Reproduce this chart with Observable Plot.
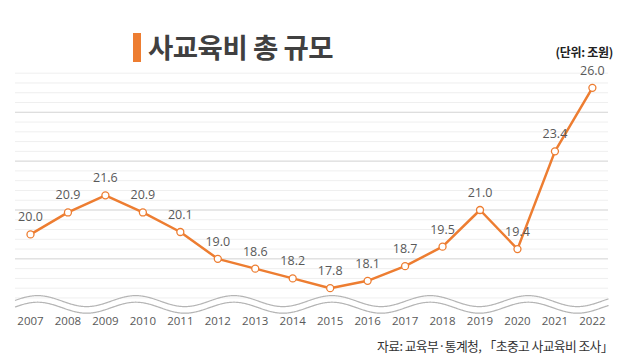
<!DOCTYPE html>
<html>
<head>
<meta charset="utf-8">
<script src="https://cdn.jsdelivr.net/npm/d3@7"></script>
<script src="https://cdn.jsdelivr.net/npm/@observablehq/plot@0.6"></script>
<style>
  html, body { margin: 0; padding: 0; background: #fff; }
  #wrap { position: relative; width: 640px; height: 359px; overflow: hidden;
          font-family: "Open Sans", "Noto Sans CJK KR", sans-serif; }
  #bar { position: absolute; left: 133px; top: 33px; width: 8px; height: 29px; background: #ED7D31; }
  #title { position: absolute; left: 148px; top: 26px; font-size: 27.5px; font-weight: 700; color: #404040;
           font-family: "Noto Sans CJK KR", sans-serif; letter-spacing: -0.5px; }
  #unit { position: absolute; right: 27px; top: 43px; font-size: 12px; font-weight: 700; color: #222;
          font-family: "Noto Sans CJK KR", sans-serif; letter-spacing: -0.3px; }
  #chart { position: absolute; left: 0; top: 60px; }
  #caption { position: absolute; right: 27px; top: 336px; font-size: 12.8px; color: #333;
             font-family: "Noto Sans CJK KR", sans-serif; letter-spacing: -0.6px; }
</style>
</head>
<body>
<div id="wrap">
  <div id="bar"></div>
  <div id="title">사교육비 총 규모</div>
  <div id="unit">(단위: 조원)</div>
  <div id="chart"></div>
  <div id="caption">자료: 교육부·통계청, 「초중고 사교육비 조사」</div>
</div>
<script>
const years = [2007, 2008, 2009, 2010, 2011, 2012, 2013, 2014, 2015, 2016, 2017, 2018, 2019, 2020, 2021, 2022];
const values = [20.0, 20.9, 21.6, 20.9, 20.1, 19.0, 18.6, 18.2, 17.8, 18.1, 18.7, 19.5, 21.0, 19.4, 23.4, 26.0];
const labels = ["20.0", "20.9", "21.6", "20.9", "20.1", "19.0", "18.6", "18.2", "17.8", "18.1", "18.7", "19.5", "21.0", "19.4", "23.4", "26.0"];

const data = years.map((y, i) => ({year: y, value: values[i], label: labels[i]}));

// gridline levels
const minorGrid = d3.range(17.4, 26.61, 0.4).map(v => +v.toFixed(1));
const majorGrid = [19, 21, 23, 25];

// decorative axis-break wave (not data)
function breakWave(center) {
  const pts = [];
  for (let x = 2006.6; x <= 2022.43; x += 0.02) {
    pts.push({year: x, value: center + 0.225 * Math.cos(2 * Math.PI * (x - 2007.19) / 2.62)});
  }
  return pts;
}
const waveTop = breakWave(17.27);
const waveBottom = breakWave(17.0);

const chart = Plot.plot({
  width: 640,
  height: 272,
  marginLeft: 15,
  marginRight: 32,
  marginTop: 12.7,
  marginBottom: 19.9,
  style: {fontFamily: "'Open Sans', 'Noto Sans', sans-serif", background: "transparent"},
  x: {domain: [2006.6, 2022.43], axis: null},
  y: {domain: [16.8, 26.6], axis: null},
  marks: [
    Plot.ruleY(minorGrid, {stroke: "#efefef", strokeWidth: 1}),
    Plot.ruleY(majorGrid, {stroke: "#d9d9d9", strokeWidth: 1}),
    Plot.line(waveTop, {x: "year", y: "value", stroke: "#b5b5b5", strokeWidth: 1.2, curve: "basis"}),
    Plot.line(waveBottom, {x: "year", y: "value", stroke: "#b5b5b5", strokeWidth: 1.2, curve: "basis"}),
    Plot.axisX({ticks: years, tickFormat: d => String(d), tickSize: 0, tickPadding: 4, label: null,
                fontSize: 11.5, color: "#595959", anchor: "bottom"}),
    Plot.line(data, {x: "year", y: "value", stroke: "#ED7D31", strokeWidth: 2.5}),
    Plot.dot(data, {x: "year", y: "value", r: 3.5, fill: "#fff", stroke: "#ED7D31", strokeWidth: 1.3}),
    Plot.text(data, {x: "year", y: "value", text: "label", dy: -17, fontSize: 12.5, fill: "#595959"})
  ]
});
document.getElementById("chart").appendChild(chart);
</script>
</body>
</html>
